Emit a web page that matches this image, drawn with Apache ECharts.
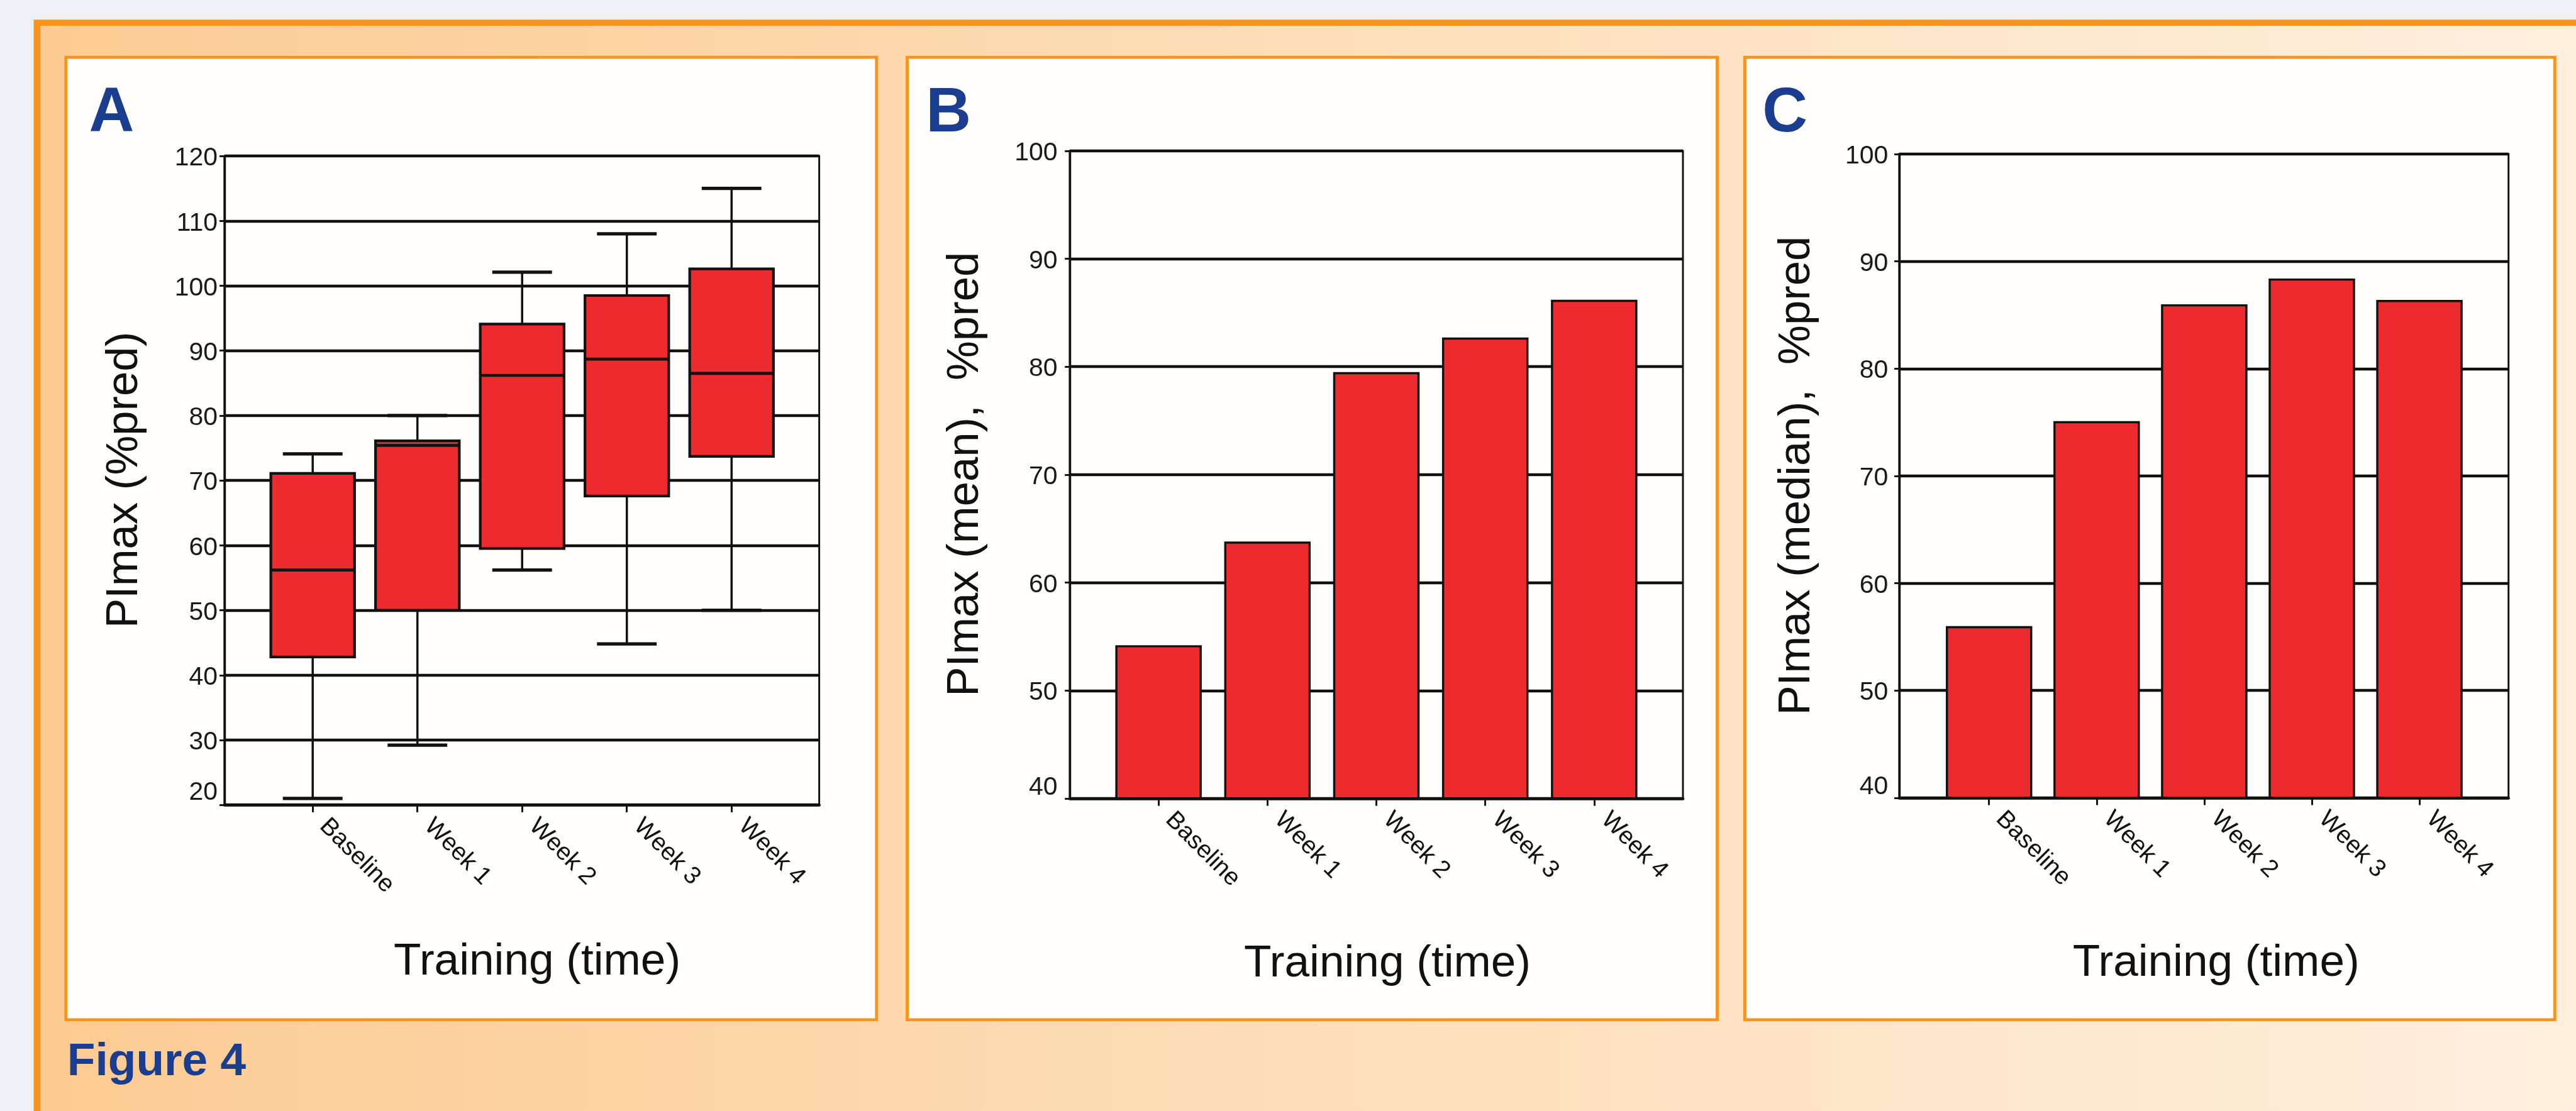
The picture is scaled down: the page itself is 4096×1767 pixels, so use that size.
<!DOCTYPE html>
<html>
<head>
<meta charset="utf-8">
<title>Figure 4 – PImax during training</title>
<script src="https://cdn.jsdelivr.net/npm/echarts@6/dist/echarts.min.js"></script>
<style>
  html, body { margin: 0; padding: 0; background: #eff1f6; }
  #chart { width: 4096px; height: 1767px; }
</style>
</head>
<body>
<div id="chart"></div>
<script>
// ---- data -------------------------------------------------------------
const categories = ['Baseline', 'Week 1', 'Week 2', 'Week 3', 'Week 4'];

// Panel A: distribution of PImax (%pred) per time point
const boxMin    = [21.0, 29.2, 56.2, 44.8, 50.0];
const boxQ1     = [42.8, 50.0, 59.5, 67.6, 73.7];
const boxMedian = [56.2, 75.4, 86.2, 88.7, 86.5];
const boxQ3     = [71.1, 76.1, 94.1, 98.5, 102.6];
const boxMax    = [74.1, 80.0, 102.1, 108.0, 115.0];

// Panel B: mean PImax (%pred)
const meanValues = [54.2, 63.8, 79.5, 82.7, 86.2];

// Panel C: median PImax (%pred)
const medianValues = [56.0, 75.1, 86.0, 88.4, 86.4];

const categoryTicks = [0, 1, 2, 3, 4];

// ---- styling ----------------------------------------------------------
const K = 0.975;                 // layout is written in 4200-wide units
const s = v => v * K;
const FONT = '"Liberation Sans", Arial, Helvetica, sans-serif';
const RED = '#ED2A2D';
const INK = '#111111';
const ORANGE = '#F7941D';
const BLUE = '#1B3D8F';

const chart = echarts.init(document.getElementById('chart'), null, { renderer: 'canvas' });

function gridFor(left, top, right, bottom) {
  return {
    left: s(left), top: s(top), width: s(right - left), height: s(bottom - top),
    show: true, borderColor: INK, borderWidth: s(3), backgroundColor: 'transparent',
    containLabel: false, outerBoundsMode: 'none'
  };
}

function xAxisFor(gridIndex, min, max) {
  return {
    type: 'value', gridIndex, min, max, z: 5,
    axisLine: { show: true, onZero: false, lineStyle: { color: INK, width: s(4.7) } },
    axisTick: { show: true, customValues: categoryTicks, length: s(12), lineStyle: { color: INK, width: s(3) } },
    axisLabel: {
      customValues: categoryTicks, rotate: -45, margin: s(11), padding: [0, 0, 0, s(25)],
      formatter: v => categories[Math.round(v)],
      fontFamily: FONT, fontSize: s(40), color: INK
    },
    splitLine: { show: false }
  };
}

function yAxisFor(gridIndex, min, max, margin, lowRaise) {
  const txt = { fontFamily: FONT, fontSize: s(42), color: '#1a1a1a' };
  return {
    type: 'value', gridIndex, min, max, interval: 10,
    axisLine: { show: true, onZero: false, lineStyle: { color: INK, width: s(3.5) } },
    axisTick: { show: true, length: s(8), lineStyle: { color: INK, width: s(3) } },
    axisLabel: {
      margin: s(margin), ...txt,
      formatter: v => (v === min ? '{lo|' + v + '}' : '{n|' + v + '}'),
      rich: {
        lo: { ...txt, padding: [0, 0, s(2 * lowRaise), 0] },
        n: { ...txt, padding: [s(8), 0, 0, 0] }
      }
    },
    splitLine: { show: true, lineStyle: { color: INK, width: s(4.4) } }
  };
}

// box-and-whisker drawn through the axis scales
function renderBox(params, api) {
  const x = api.value(0);
  const lo = api.coord([x, api.value(1)]);
  const q1 = api.coord([x, api.value(2)]);
  const med = api.coord([x, api.value(3)]);
  const q3 = api.coord([x, api.value(4)]);
  const hi = api.coord([x, api.value(5)]);
  const unit = api.size([1, 0])[0];
  const cx = med[0];
  const boxW = unit * 0.8;
  const capW = unit * 0.57;
  const line = (x1, y1, x2, y2, w) => ({
    type: 'line', shape: { x1, y1, x2, y2 }, style: { stroke: INK, lineWidth: w }
  });
  return {
    type: 'group',
    children: [
      line(cx, hi[1], cx, lo[1], s(3.6)),
      line(cx - capW / 2, hi[1], cx + capW / 2, hi[1], s(5.4)),
      line(cx - capW / 2, lo[1], cx + capW / 2, lo[1], s(5.4)),
      {
        type: 'rect',
        shape: { x: cx - boxW / 2, y: q3[1], width: boxW, height: q1[1] - q3[1] },
        style: { fill: RED, stroke: INK, lineWidth: s(4.3) }
      },
      line(cx - boxW / 2, med[1], cx + boxW / 2, med[1], s(4.8))
    ]
  };
}

function txt(x, y, text, size, opts = {}) {
  return {
    type: 'text', x: s(x), y: s(y), z: 10, silent: true,
    rotation: opts.rotation || 0,
    style: {
      text, fill: opts.color || INK,
      font: (opts.bold ? 'bold ' : 'normal ') + s(size) + 'px ' + FONT,
      align: opts.align || 'center', verticalAlign: 'middle'
    }
  };
}

function panel(x1, y1, x2, y2) {
  return {
    type: 'rect', z: -10, silent: true,
    shape: { x: s(x1), y: s(y1), width: s(x2 - x1), height: s(y2 - y1) },
    style: { fill: '#fffefd', stroke: ORANGE, lineWidth: s(5) }
  };
}

const option = {
  animation: false,
  backgroundColor: '#eff1f6',
  graphic: [
    // outer frame and warm gradient field
    { type: 'rect', z: -30, silent: true,
      shape: { x: s(55), y: s(32), width: s(4300), height: s(1900) },
      style: { fill: ORANGE } },
    { type: 'rect', z: -29, silent: true,
      shape: { x: s(66), y: s(42), width: s(4300), height: s(1900) },
      style: { fill: { type: 'linear', x: 0, y: 0, x2: 1, y2: 0, colorStops: [
        { offset: 0, color: '#FCCB93' },
        { offset: 0.45, color: '#FDDDB6' },
        { offset: 1, color: '#FEF0E0' }
      ] } } },
    panel(107.5, 93.5, 1429.5, 1663.5),
    panel(1479.5, 93.5, 2800.5, 1663.5),
    panel(2845.5, 93.5, 4166.5, 1663.5),

    // panel letters and caption
    txt(145, 186.5, 'A', 102, { bold: true, color: BLUE, align: 'left' }),
    txt(1510, 186.5, 'B', 102, { bold: true, color: BLUE, align: 'left' }),
    txt(2874, 186.5, 'C', 102, { bold: true, color: BLUE, align: 'left' }),
    txt(109.5, 1733, 'Figure 4', 75, { bold: true, color: BLUE, align: 'left' }),

    // axis titles
    txt(204, 783, 'PImax (%pred)', 72.5, { rotation: Math.PI / 2 }),
    txt(1575, 773.5, 'PImax (mean),  %pred', 72.5, { rotation: Math.PI / 2 }),
    txt(2931, 776, 'PImax (median),  %pred', 72.5, { rotation: Math.PI / 2 }),
    txt(876, 1570, 'Training (time)', 73),
    txt(2262.6, 1573, 'Training (time)', 73),
    txt(3614, 1572, 'Training (time)', 73)
  ],
  grid: [
    gridFor(366, 254.5, 1336, 1313),
    gridFor(1744.6, 246, 2744.6, 1302.5),
    gridFor(3097.3, 251.3, 4091, 1301.3)
  ],
  xAxis: [
    xAxisFor(0, -0.843, 4.837),
    xAxisFor(1, -0.815, 4.815),
    xAxisFor(2, -0.835, 4.828)
  ],
  yAxis: [
    yAxisFor(0, 20, 120, 11, 20),
    yAxisFor(1, 40, 100, 20, 17.5),
    yAxisFor(2, 40, 100, 18, 17)
  ],
  series: [
    {
      name: 'PImax distribution', type: 'custom', xAxisIndex: 0, yAxisIndex: 0,
      renderItem: renderBox,
      encode: { x: 0, y: [1, 2, 3, 4, 5] },
      data: categories.map((_, i) => [i, boxMin[i], boxQ1[i], boxMedian[i], boxQ3[i], boxMax[i]])
    },
    {
      name: 'PImax mean', type: 'bar', xAxisIndex: 1, yAxisIndex: 1,
      barWidth: s(141),
      itemStyle: { color: RED, borderColor: INK, borderWidth: s(3.5) },
      data: meanValues.map((v, i) => [i, v])
    },
    {
      name: 'PImax median', type: 'bar', xAxisIndex: 2, yAxisIndex: 2,
      barWidth: s(141),
      itemStyle: { color: RED, borderColor: INK, borderWidth: s(3.5) },
      data: medianValues.map((v, i) => [i, v])
    }
  ]
};

chart.setOption(option);
</script>
</body>
</html>
